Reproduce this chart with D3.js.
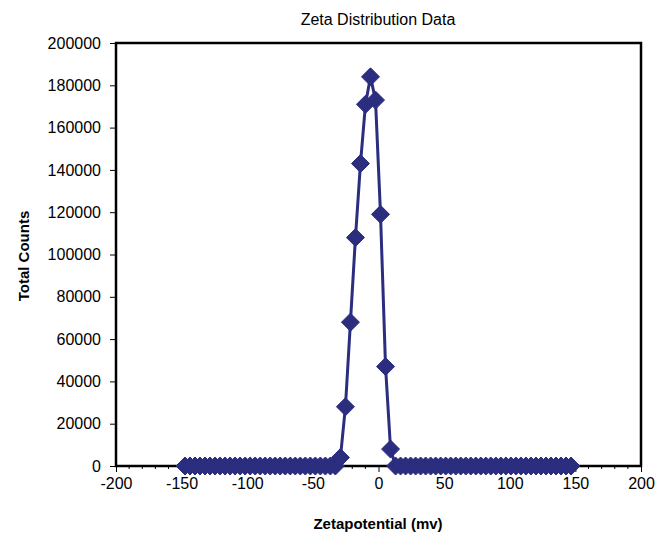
<!DOCTYPE html>
<html>
<head>
<meta charset="utf-8">
<script src="https://cdn.jsdelivr.net/npm/d3@7"></script>
<style>
  html, body { margin: 0; padding: 0; background: #fff; }
  svg { display: block; font-family: "Liberation Sans", Arial, sans-serif; }
</style>
</head>
<body>
<svg id="chart" width="670" height="538"></svg>
<script>
// Zeta potential (mV) of each measurement channel
const zetaMv = [
  -147.44, -143.62, -139.80, -135.98, -132.16, -128.34, -124.52, -120.70, -116.88, -113.06,
  -109.24, -105.42, -101.60, -97.78, -93.96, -90.14, -86.32, -82.50, -78.68, -74.86,
  -71.04, -67.22, -63.40, -59.58, -55.76, -51.94, -48.12, -44.30, -40.48, -36.66,
  -32.84, -29.02, -25.20, -21.38, -17.56, -13.74, -9.92, -6.10, -2.28, 1.54,
  5.36, 9.18, 13.00, 16.82, 20.64, 24.46, 28.28, 32.10, 35.92, 39.74,
  43.56, 47.38, 51.20, 55.02, 58.84, 62.66, 66.48, 70.30, 74.12, 77.94,
  81.76, 85.58, 89.40, 93.22, 97.04, 100.86, 104.68, 108.50, 112.32, 116.14,
  119.96, 123.78, 127.60, 131.42, 135.24, 139.06, 142.88, 146.70
];
// Total counts per channel
const totalCounts = [
  0, 0, 0, 0, 0, 0, 0, 0, 0, 0,
  0, 0, 0, 0, 0, 0, 0, 0, 0, 0,
  0, 0, 0, 0, 0, 0, 0, 0, 0, 0,
  0, 4000, 28000, 68000, 108000, 143000, 171000, 184000, 173000, 119000,
  47000, 8000, 0, 0, 0, 0, 0, 0, 0, 0,
  0, 0, 0, 0, 0, 0, 0, 0, 0, 0,
  0, 0, 0, 0, 0, 0, 0, 0, 0, 0,
  0, 0, 0, 0, 0, 0, 0, 0
];
const xTicks = [-200, -150, -100, -50, 0, 50, 100, 150, 200];
const yTicks = [0, 20000, 40000, 60000, 80000, 100000, 120000, 140000, 160000, 180000, 200000];

const titleText = "Zeta Distribution Data";
const xTitle = "Zetapotential (mv)";
const yTitle = "Total Counts";

const data = zetaMv.map((v, i) => ({ x: v, y: totalCounts[i] }));

const svg = d3.select("#chart");
const plotL = 116, plotR = 641, plotT = 43, plotB = 466;
const navy = "#2b2d7f";

const x = d3.scaleLinear().domain([-200, 200]).range([plotL, plotR]);
const y = d3.scaleLinear().domain([0, 200000]).range([plotB, plotT]);

// plot frame
svg.append("rect")
  .attr("x", plotL).attr("y", plotT)
  .attr("width", plotR - plotL).attr("height", plotB - plotT)
  .attr("fill", "none").attr("stroke", "#000").attr("stroke-width", 2.5);

// minor x ticks every 10 mV
const minor = d3.range(-200, 201, 10).filter(v => v % 50 !== 0);
svg.append("g").selectAll("line").data(minor).join("line")
  .attr("x1", d => x(d)).attr("x2", d => x(d))
  .attr("y1", plotB).attr("y2", plotB + 3)
  .attr("stroke", "#000").attr("stroke-width", 1);

// x axis
const xAxis = svg.append("g")
  .attr("transform", `translate(0,${plotB})`)
  .call(d3.axisBottom(x).tickValues(xTicks).tickSize(6).tickPadding(6).tickFormat(d3.format("d")));
xAxis.select(".domain").remove();
xAxis.selectAll("line").attr("stroke", "#000").attr("stroke-width", 1);
xAxis.selectAll("text").attr("font-size", 16).attr("fill", "#000")
  .attr("font-family", "Liberation Sans, Arial, sans-serif").text(d => d < 0 ? "-" + Math.abs(d) : d);

// y axis
const yAxis = svg.append("g")
  .attr("transform", `translate(${plotL},0)`)
  .call(d3.axisLeft(y).tickValues(yTicks).tickSize(6).tickPadding(9).tickFormat(d3.format("d")));
yAxis.select(".domain").remove();
yAxis.selectAll("line").attr("stroke", "#000").attr("stroke-width", 1);
yAxis.selectAll("text").attr("font-size", 16).attr("fill", "#000")
  .attr("font-family", "Liberation Sans, Arial, sans-serif");

// series line
const line = d3.line().x(d => x(d.x)).y(d => y(d.y));
svg.append("path").datum(data)
  .attr("d", line)
  .attr("fill", "none").attr("stroke", navy).attr("stroke-width", 3)
  .attr("stroke-linejoin", "round");

// diamond markers
const r = 9;
svg.append("g").selectAll("path").data(data).join("path")
  .attr("d", d => {
    const cx = x(d.x), cy = y(d.y);
    return `M${cx},${cy - r}L${cx + r},${cy}L${cx},${cy + r}L${cx - r},${cy}Z`;
  })
  .attr("fill", navy).attr("stroke", navy).attr("stroke-width", 1);

// titles
svg.append("text").attr("x", 378).attr("y", 25).attr("text-anchor", "middle")
  .attr("font-size", 16).attr("fill", "#000").text(titleText);
svg.append("text").attr("x", 378).attr("y", 529).attr("text-anchor", "middle")
  .attr("font-size", 15).attr("font-weight", "bold").attr("fill", "#000").text(xTitle);
svg.append("text").attr("transform", "translate(29,256) rotate(-90)").attr("text-anchor", "middle")
  .attr("font-size", 15).attr("font-weight", "bold").attr("fill", "#000").text(yTitle);
</script>
</body>
</html>
